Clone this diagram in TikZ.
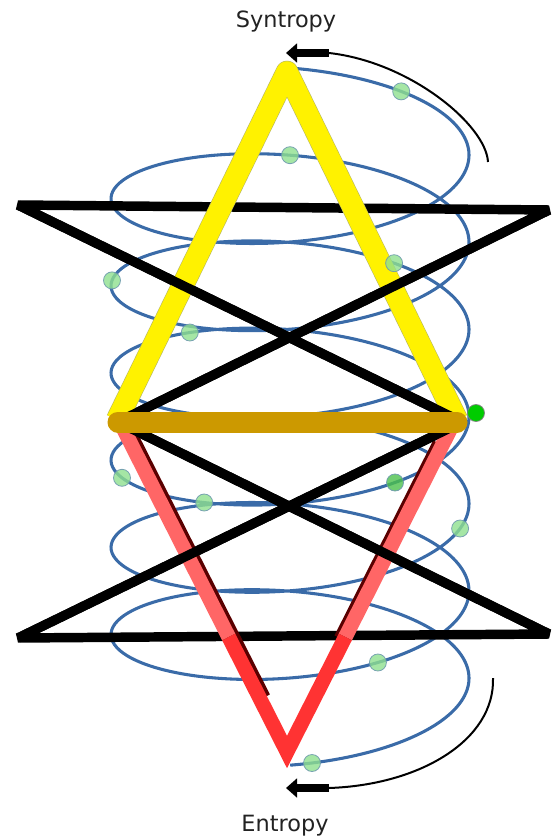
\documentclass[tikz,border=0pt]{standalone}
\usepackage{fontspec}
\setmainfont{DejaVu Sans}
\usetikzlibrary{arrows.meta}
\definecolor{helixblue}{HTML}{3A6BA8}
\definecolor{goldbar}{HTML}{CC9900}
\definecolor{lightred}{HTML}{FF6666}
\definecolor{strongred}{HTML}{FF3333}
\definecolor{shadowred}{HTML}{5A0000}
\definecolor{yellowedge}{HTML}{B8B860}
\definecolor{dotgreen}{HTML}{8FE08F}
\definecolor{dotgreendark}{HTML}{4CC04C}
\definecolor{dotedge}{HTML}{6E9AAE}
\definecolor{solidgreen}{HTML}{00CC00}
\definecolor{textgray}{HTML}{222222}
\tikzset{
  helix/.style={draw=helixblue, line width=2.3pt},
  starline/.style={draw=black, line width=7.1pt, line join=bevel},
  yellowarm/.style={draw=yellow, line width=16pt, line join=round},
  yellowrim/.style={draw=yellowedge, line width=16.9pt, line join=round},
  redlight/.style={draw=lightred, line width=11pt},
  redstrong/.style={draw=strongred, line width=11pt, line join=miter},
  redshadow/.style={draw=shadowred, line width=11pt},
  goldline/.style={draw=goldbar, line width=15.75pt, line cap=round},
  greendot/.style={circle, minimum size=12.75pt, inner sep=0pt, fill=dotgreen, fill opacity=0.8, draw=dotedge, draw opacity=0.9, line width=0.6pt},
  thinarc/.style={draw=black, line width=1.5pt},
  fatarrow/.style={draw=black, line width=5.4pt, -{Triangle[length=8.25pt,width=14pt]}},
  label/.style={font=\fontsize{16.8}{20}\selectfont, text=textgray, anchor=base, inner sep=0pt}
}
\begin{document}
\begin{tikzpicture}[x=0.75pt,y=-0.75pt]
\useasboundingbox (0,0) rectangle (552,837);

% key points
\coordinate (ya) at (287,72);
\coordinate (yl) at (117,420);
\coordinate (yr) at (457,420);
\coordinate (bl) at (118,422);
\coordinate (br) at (457,422);
\coordinate (rl) at (122,426);
\coordinate (rr) at (452,426);
\coordinate (rml) at (228.7,637);
\coordinate (rmr) at (345.3,637);
\coordinate (ra) at (287,752);
\coordinate (sl1) at (129.7,433.7);
\coordinate (sl2) at (263.4,697.7);
\coordinate (sr1) at (439.7,443.7);
\coordinate (sr2) at (341.0,638.7);
\coordinate (utl) at (18,205);
\coordinate (utr) at (549,210);
\coordinate (ubl) at (128,417);
\coordinate (ubr) at (452,417);
\coordinate (ltl) at (128,427);
\coordinate (ltr) at (452,427);
\coordinate (lbl) at (18,638);
\coordinate (lbr) at (549,634);

% helix
\draw[helix] plot[domain=0:40.841, samples=700, smooth, variable=\t]
  ({290+179*sin(\t r)},{133.2+13.878*\t-65.2*cos(\t r)});

% star outlines (horizontals below the triangles)
\draw[starline] (ubr) -- (utl) -- (utr) -- (ubl);
\draw[starline] (ltl) -- (lbr) -- (lbl) -- (ltr);

% yellow triangle
\draw[yellowrim] (yl) -- (ya) -- (yr);
\draw[yellowarm] (yl) -- (ya) -- (yr);

% red triangle
\draw[redshadow] (sl1) -- (sl2);
\draw[redshadow] (sr1) -- (sr2);
\draw[redlight] (rl) -- (rml);
\draw[redlight] (rr) -- (rmr);
\draw[redstrong] (rml) -- (ra) -- (rmr);

% black diagonals above the triangles
\draw[starline] (utl) -- (ubr);
\draw[starline] (utr) -- (ubl);
\draw[starline] (ltl) -- (lbr);
\draw[starline] (ltr) -- (lbl);

% gold base
\draw[goldline] (bl) -- (br);

% dots on the helix
\node[greendot] (d1) at (401.2,91.4) {};
\node[greendot] (d2) at (290,155.2) {};
\node[greendot] (d3) at (394.1,263.2) {};
\node[greendot] (d4) at (112,280.4) {};
\node[greendot] (d5) at (189.8,332.5) {};
\node[greendot, fill=solidgreen, fill opacity=1, draw=gray] (d6) at (476,413) {};
\node[greendot] (d7) at (122,477.8) {};
\node[greendot] (d8) at (204.2,502.5) {};
\node[greendot, fill=dotgreendark] (d9) at (395,482.5) {};
\node[greendot] (d10) at (460.1,528.5) {};
\node[greendot] (d11) at (377.9,662.5) {};
\node[greendot] (d12) at (312,763) {};

% arrows
\coordinate (sA) at (488,162);
\coordinate (sB) at (329,53);
\coordinate (sC) at (286,53);
\draw[thinarc] (sA) .. controls (486,125) and (410,62) .. (sB);
\draw[fatarrow] (sB) -- (sC);
\coordinate (eA) at (493,678);
\coordinate (eB) at (329,788);
\coordinate (eC) at (286,788);
\draw[thinarc] (eA) .. controls (495,740) and (420,785) .. (eB);
\draw[fatarrow] (eB) -- (eC);

% labels
\node[label] (syn) at (286,28) {Syntropy};
\node[label] (ent) at (285,831.5) {Entropy};
\end{tikzpicture}
\end{document}
